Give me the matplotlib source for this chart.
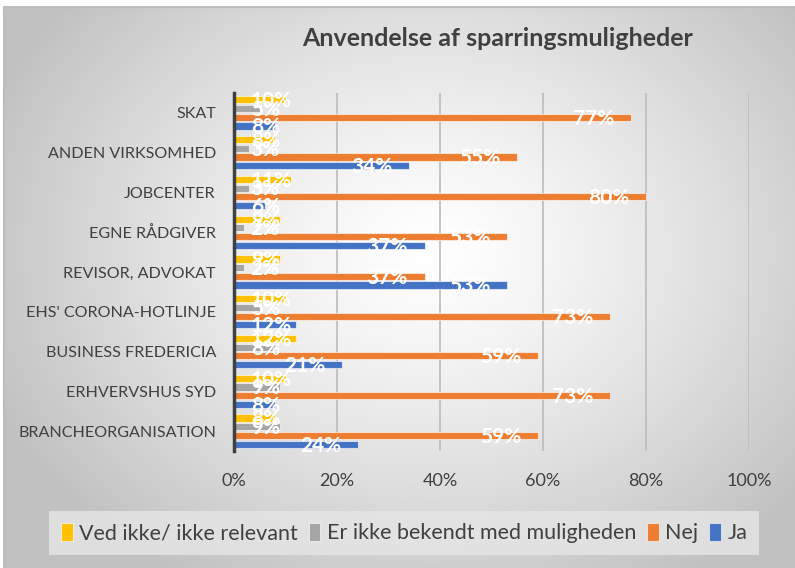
import numpy as np
import matplotlib
matplotlib.use("Agg")
import matplotlib.pyplot as plt
from matplotlib.patches import Patch

plt.rcParams['font.family'] = ['Lato', 'DejaVu Sans']

categories = ["SKAT", "ANDEN VIRKSOMHED", "JOBCENTER", "EGNE RÅDGIVER",
              "REVISOR, ADVOKAT", "EHS' CORONA-HOTLINJE", "BUSINESS FREDERICIA",
              "ERHVERVSHUS SYD", "BRANCHEORGANISATION"]
series_names = ["Ved ikke/ ikke relevant", "Er ikke bekendt med muligheden", "Nej", "Ja"]
ved_ikke = [10, 8, 11, 9, 9, 10, 12, 10, 8]
ikke_bekendt = [5, 3, 3, 2, 2, 5, 8, 9, 9]
nej = [77, 55, 80, 53, 37, 73, 59, 73, 59]
ja = [8, 34, 6, 37, 53, 12, 21, 8, 24]
x_ticks = [0, 20, 40, 60, 80, 100]
x_tick_labels = ["0%", "20%", "40%", "60%", "80%", "100%"]

colors = ["#FFC000", "#A5A5A5", "#ED7D31", "#4472C4"]
series = [ved_ikke, ikke_bekendt, nej, ja]

W, H = 795, 568
fig = plt.figure(figsize=(W / 100, H / 100), dpi=100)

# background radial gradient
bg = fig.add_axes([0, 0, 1, 1], zorder=-10)
yy, xx = np.mgrid[0:H, 0:W]
cx, cy = 430, 250
r = np.sqrt(((xx - cx) / 470.0) ** 2 + ((yy - cy) / 380.0) ** 2)
r = np.clip(r, 0, 1)
val = 1.0 - 0.24 * r ** 1.3
img = np.dstack([val, val, val])
img[:7, :, :] = 1.0
img[:, :4, :] = 1.0
bg.imshow(img, extent=[0, W, H, 0], aspect='auto', interpolation='bilinear')
bg.plot([4, 4, W], [H, 7, 7], color="#BDBDBD", lw=1.5)
bg.set_xlim(0, W)
bg.set_ylim(H, 0)
bg.axis('off')

left, right, top, bottom = 234, 749, 93, 451
ax = fig.add_axes([left / W, 1 - bottom / H, (right - left) / W, (bottom - top) / H])
ax.patch.set_alpha(0)

n = len(categories)
idx = np.arange(n)
slot = 0.219
height = 0.18
for j, (vals, col) in enumerate(zip(series, colors)):
    ys = idx + (j - 1.5) * slot
    ax.barh(ys, vals, height=height, color=col, edgecolor=(1, 1, 1, 0.6),
            linewidth=0.8, zorder=3)
    for y, v in zip(ys, vals):
        lab = f"{v}%"
        if v < 15:
            ax.annotate(lab, xy=(0, y), xytext=(12, -1), textcoords='offset points',
                        ha='left', va='center', color='white', fontsize=15,
                        fontweight='bold', zorder=5)
        else:
            ax.annotate(lab, xy=(v, y), xytext=(-12, -1), textcoords='offset points',
                        ha='right', va='center', color='white', fontsize=15,
                        fontweight='bold', zorder=5)

ax.set_xlim(0, 100)
ax.set_ylim(n - 0.5, -0.5)
ax.set_xticks(x_ticks)
ax.set_xticklabels(x_tick_labels)
ax.set_yticks(idx)
ax.set_yticklabels(categories)
ax.tick_params(axis='x', length=0, pad=16, labelsize=13, labelcolor="#404040")
ax.tick_params(axis='y', length=0, pad=13, labelsize=11.6, labelcolor="#404040")
ax.grid(axis='x', color="#BFBFBF", lw=1.3, zorder=0)
for s in ['top', 'right', 'bottom']:
    ax.spines[s].set_visible(False)
ax.spines['left'].set_color("#404040")
ax.spines['left'].set_linewidth(2.5)
ax.spines['left'].set_zorder(4)

fig.text(498 / W, 1 - 38 / H, "Anvendelse af sparringsmuligheder", ha='center', va='center',
         fontsize=18, fontweight='bold', color="#404040")

handles = [Patch(facecolor=c, edgecolor=(1, 1, 1, 0.6), linewidth=0.8) for c in colors]
leg = fig.legend(handles, series_names, loc='center', bbox_to_anchor=(404 / W, 1 - 533 / H),
                 ncol=4, frameon=True, fontsize=15.5, handlelength=0.55, handleheight=0.9,
                 handletextpad=0.3, columnspacing=0.5, borderpad=0.55, fancybox=False)
leg.get_frame().set_facecolor("#E6E6E6")
leg.get_frame().set_edgecolor("none")
leg.get_frame().set_alpha(0.8)
for t in leg.get_texts():
    t.set_color("#404040")

fig.savefig("out.png", dpi=100)
